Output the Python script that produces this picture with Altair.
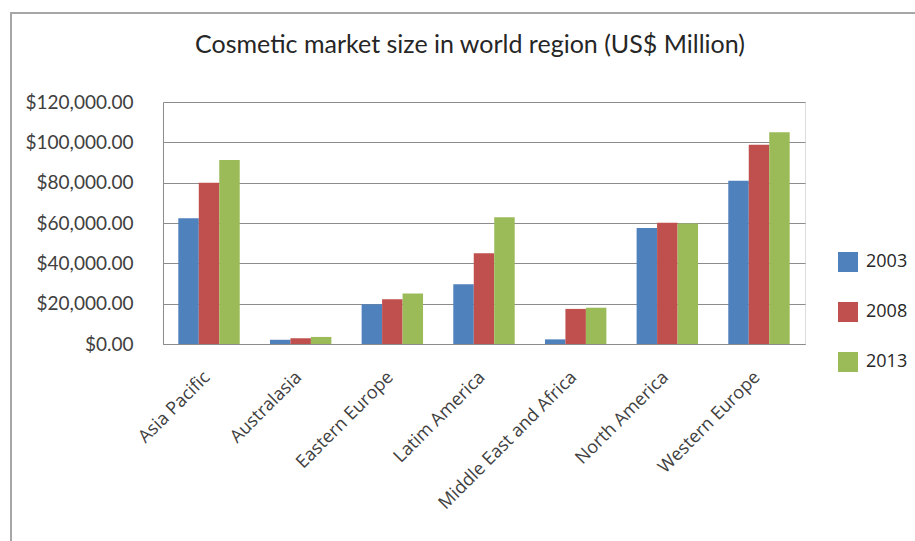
import altair as alt
import pandas as pd

regions = ["Asia Pacific", "Australasia", "Eastern Europe", "Latim America",
           "Middle East and Africa", "North America", "Western Europe"]
years = ["2003", "2008", "2013"]
v2003 = [62300, 2100, 19700, 29600, 2300, 57500, 81000]
v2008 = [80000, 2800, 22200, 45000, 17400, 60100, 98800]
v2013 = [91200, 3500, 25000, 62800, 18000, 59700, 105000]
colors = ["#4F81BD", "#C0504D", "#9BBB59"]

rows = []
for y, vals in zip(years, [v2003, v2008, v2013]):
    for r, v in zip(regions, vals):
        rows.append({"Region": r, "Year": y, "Value": v})
df = pd.DataFrame(rows)

bars = alt.Chart(df).mark_bar().encode(
    x=alt.X("Region:N", sort=regions, title=None,
            scale=alt.Scale(paddingInner=0.33, paddingOuter=0.167),
            axis=alt.Axis(labelAngle=-45, labelAlign="right", labelBaseline="top",
                          labelPadding=24, labelOffset=-8, labelLimit=400,
                          ticks=False, domain=True,
                          domainColor="#8C8C8C", labelFontSize=18,
                          labelFont="Open Sans", labelColor="#404040")),
    xOffset=alt.XOffset("Year:N", sort=years, scale=alt.Scale(paddingInner=0, paddingOuter=0)),
    y=alt.Y("Value:Q", title=None,
            scale=alt.Scale(domain=[0, 120000]),
            axis=alt.Axis(values=[0, 20000, 40000, 60000, 80000, 100000, 120000],
                          format="$,.2f", ticks=False, labelPadding=30,
                          labelFontSize=19, labelFont="Lato", labelColor="#404040",
                          grid=True, gridColor="#8C8C8C", gridWidth=1,
                          domain=True, domainColor="#8C8C8C")),
    color=alt.Color("Year:N", sort=years,
                    scale=alt.Scale(domain=years, range=colors),
                    legend=alt.Legend(title=None, orient="none", legendX=675, legendY=150,
                                      symbolType="square", symbolSize=400,
                                      symbolStrokeWidth=0, labelFontSize=18,
                                      labelFont="Open Sans", labelColor="#262626",
                                      labelOffset=8, rowPadding=30, padding=0)),
)

frame = alt.Chart(pd.DataFrame({"k": [0]})).mark_rect(
    fill=None, stroke="#A6A6A6", strokeWidth=2, clip=False
).encode(x=alt.value(-152), x2=alt.value(760), y=alt.value(-89), y2=alt.value(450))

chart = alt.layer(frame, bars).properties(
    width=642, height=242,
    title=alt.TitleParams("Cosmetic market size in world region (US$ Million)",
                          font="Lato", fontSize=25, fontWeight="normal",
                          color="#262626", dx=-14, offset=-46, anchor="middle"),
    autosize=alt.AutoSizeParams(type="none"),
    padding={"left": 163, "top": 102, "right": 110, "bottom": 197},
).configure_view(stroke="transparent", strokeWidth=0).configure(background="white")

chart.save("out.html", embed_options={"renderer": "svg", "actions": False})
